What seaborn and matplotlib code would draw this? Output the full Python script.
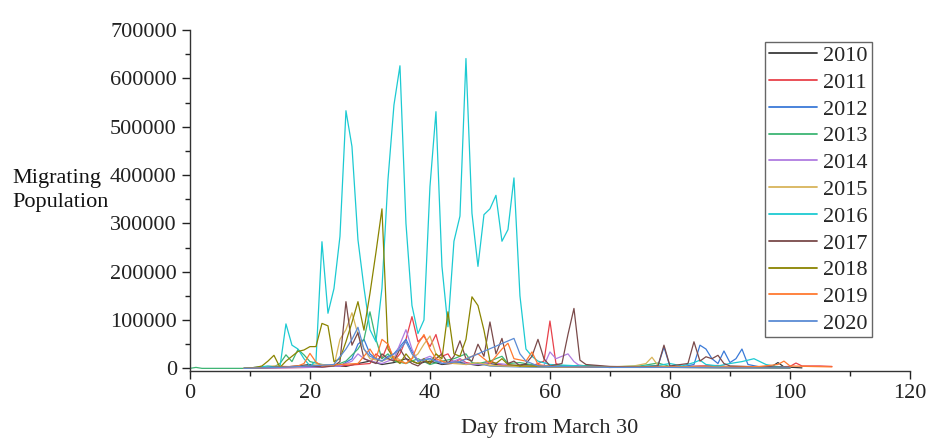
import pandas as pd
import matplotlib
matplotlib.use('Agg')
import matplotlib.pyplot as plt
from matplotlib.ticker import MultipleLocator
import seaborn as sns

# 各年份迁徙数量（单位：千），按天读取自原图
years = ['2010', '2011', '2012', '2013', '2014', '2015', '2016', '2017', '2018', '2019', '2020']

days_2010 = [9, 12, 15, 18, 20, 22, 24, 26, 28, 30, 32, 34, 36, 38, 40, 42, 45, 48, 50, 53, 56, 60, 65, 70, 75, 80, 85, 90, 95, 97, 98, 99, 102]
vals_2010 = [0, 3, 2, 5, 8, 3, 6, 4, 10, 15, 8, 12, 20, 10, 15, 8, 12, 6, 10, 5, 8, 4, 6, 3, 2, 3, 4, 3, 2, 4, 12, 3, 1]

days_2011 = [9, 20, 25, 28, 30, 31, 32, 33, 34, 35, 36, 37, 38, 39, 40, 41, 42, 43, 44, 45, 46, 48, 50, 52, 55,
             57, 58, 59, 60, 61, 62, 65, 70, 80, 88, 90, 95, 100, 101, 102, 105, 107]
vals_2011 = [0, 2, 5, 8, 10, 30, 20, 50, 15, 30, 60, 107, 55, 67, 45, 70, 25, 30, 10, 20, 12, 8, 15, 6, 4,
             5, 10, 15, 98, 10, 4, 3, 2, 3, 6, 3, 2, 4, 11, 5, 5, 4]

days_2012 = [9, 15, 20, 25, 27, 28, 29, 30, 31, 32, 33, 34, 35, 36, 37, 38, 40, 42, 44, 46, 48, 50, 52, 55, 60, 65,
             70, 75, 78, 79, 80, 82, 84, 85, 86, 87, 88, 89, 90, 91, 92, 93, 95, 100]
vals_2012 = [0, 2, 3, 5, 20, 50, 60, 30, 20, 15, 25, 30, 45, 60, 35, 15, 20, 10, 15, 8, 10, 5, 4, 3, 2, 3,
             2, 3, 5, 44, 4, 3, 8, 48, 40, 20, 10, 36, 12, 20, 40, 8, 3, 1]

days_2013 = [0, 1, 2, 5, 10, 14, 15, 16, 17, 18, 19, 20, 22, 24, 26, 28, 29, 30, 31, 32, 33, 34, 36, 38, 40, 42,
             44, 46, 47, 48, 50, 52, 53, 55, 58, 60, 65, 70, 75, 78, 80, 85, 90, 95, 100]
vals_2013 = [0, 2, 0, 0, 0, 3, 10, 28, 14, 39, 28, 14, 8, 5, 15, 40, 60, 117, 60, 20, 30, 15, 10, 20, 8, 15,
             20, 30, 12, 10, 15, 25, 10, 12, 5, 4, 6, 3, 5, 11, 4, 3, 2, 2, 1]

days_2014 = [9, 20, 25, 27, 28, 29, 30, 32, 34, 35, 36, 37, 38, 40, 42, 44, 45, 46, 48, 50, 55,
             58, 59, 60, 61, 62, 63, 64, 65, 66, 70, 80, 90, 100]
vals_2014 = [0, 2, 5, 15, 30, 20, 15, 10, 20, 50, 80, 40, 15, 25, 10, 15, 20, 10, 8, 12, 5,
             4, 6, 34, 20, 25, 30, 14, 5, 3, 2, 3, 2, 1]

days_2015 = [9, 14, 18, 20, 22, 24, 25, 26, 27, 28, 29, 30, 32, 34, 36, 38, 39, 40, 41, 42,
             44, 46, 48, 50, 52, 55, 60, 65, 70, 74, 76, 77, 78, 80, 85, 90, 95, 100]
vals_2015 = [0, 5, 3, 6, 8, 5, 60, 80, 115, 70, 40, 20, 15, 25, 10, 30, 50, 67, 30, 15,
             10, 8, 12, 6, 5, 4, 3, 2, 3, 5, 10, 23, 6, 3, 2, 3, 2, 1]

days_2016 = [9, 11, 13, 14, 15, 16, 17, 18, 19, 20, 21, 22, 23, 24, 25, 26, 27, 28, 29, 30, 31, 32, 33, 34, 35,
             36, 37, 38, 39, 40, 41, 42, 43, 44, 45, 46, 47, 48, 49, 50, 51, 52, 53, 54, 55, 56, 57, 58,
             60, 65, 70, 75, 78, 80, 82, 84, 85, 86, 88, 90, 92, 94, 96, 98, 100]
vals_2016 = [0, 2, 5, 3, 3, 92, 48, 40, 20, 5, 15, 262, 114, 165, 273, 533, 459, 266, 167, 80, 55, 166, 390, 545, 626,
             300, 130, 72, 100, 376, 531, 211, 86, 263, 315, 641, 321, 211, 318, 330, 358, 263, 287, 394, 150, 40, 25, 15,
             8, 5, 3, 4, 6, 10, 5, 12, 17, 8, 5, 10, 14, 20, 8, 3, 2]

days_2017 = [10, 15, 20, 22, 24, 25, 26, 27, 28, 29, 30, 31, 32, 33, 34, 35, 36, 37, 38, 39, 40, 41, 42, 43, 44,
             45, 46, 47, 48, 49, 50, 51, 52, 53, 54, 55, 56, 57, 58, 59, 60, 62, 63, 64, 65, 66,
             70, 75, 78, 79, 80, 83, 84, 85, 86, 87, 88, 89, 90, 95, 100]
vals_2017 = [0, 3, 5, 3, 5, 14, 138, 48, 74, 20, 15, 10, 30, 20, 15, 40, 20, 10, 5, 15, 10, 20, 30, 10, 25,
             57, 20, 15, 50, 25, 96, 30, 62, 10, 15, 5, 10, 25, 60, 20, 5, 10, 70, 124, 17, 8,
             4, 3, 5, 48, 5, 10, 55, 15, 24, 20, 27, 10, 5, 3, 2]

days_2018 = [9, 11, 12, 13, 14, 15, 16, 17, 18, 19, 20, 21, 22, 23, 24, 25, 26, 27, 28, 29, 30, 31, 32, 33, 34,
             35, 36, 37, 38, 39, 40, 41, 42, 43, 44, 45, 46, 47, 48, 49, 50, 51, 52, 53, 55, 60, 65, 70, 80, 90, 100]
vals_2018 = [0, 2, 5, 15, 27, 2, 15, 25, 35, 38, 45, 45, 93, 88, 14, 20, 55, 95, 138, 79, 155, 240, 330, 40, 20,
             10, 30, 15, 10, 20, 10, 30, 20, 117, 30, 25, 60, 148, 130, 79, 15, 10, 20, 8, 5, 4, 3, 2, 2, 1, 1]

days_2019 = [9, 15, 18, 19, 20, 21, 22, 25, 28, 30, 31, 32, 33, 34, 36, 37, 38, 39, 40, 41,
             43, 45, 48, 50, 52, 53, 54, 56, 57, 58, 60, 65, 70, 80, 90, 95, 98, 99, 100, 103, 107]
vals_2019 = [0, 2, 5, 10, 31, 13, 5, 8, 10, 40, 20, 60, 50, 20, 10, 20, 50, 70, 40, 20,
             10, 15, 30, 10, 40, 52, 20, 15, 34, 8, 4, 3, 2, 3, 2, 4, 8, 15, 5, 4, 3]

days_2020 = [9, 15, 20, 24, 26, 27, 28, 29, 30, 32, 34, 35, 36, 37, 38, 40, 42, 45, 54, 55, 56, 57, 58,
             60, 65, 70, 80, 90, 100]
vals_2020 = [0, 2, 5, 8, 40, 60, 85, 40, 25, 15, 30, 40, 55, 30, 15, 20, 10, 14, 62, 30, 15, 10, 5,
             4, 3, 2, 2, 1, 1]

all_days = [days_2010, days_2011, days_2012, days_2013, days_2014, days_2015,
            days_2016, days_2017, days_2018, days_2019, days_2020]
all_vals = [vals_2010, vals_2011, vals_2012, vals_2013, vals_2014, vals_2015,
            vals_2016, vals_2017, vals_2018, vals_2019, vals_2020]

colors = ['#3a3a3a', '#e8414a', '#3a7ad8', '#3db574', '#b07ce0', '#d8b45a',
          '#1ccad2', '#7a4a4a', '#8a8400', '#ff7a30', '#5b8bd4']

# 组装长表
frames = []
for y, d, v in zip(years, all_days, all_vals):
    frames.append(pd.DataFrame({'day': d, 'pop': [x * 1000 for x in v], 'year': y}))
df = pd.concat(frames, ignore_index=True)

sns.set_style('ticks')
plt.rcParams['font.family'] = ['Liberation Serif', 'DejaVu Serif']

fig = plt.figure(figsize=(9.33, 4.46), dpi=100)
ax = fig.add_axes([0.2036, 0.168, 0.7717, 0.7647])

sns.lineplot(data=df, x='day', y='pop', hue='year', palette=dict(zip(years, colors)),
             estimator=None, sort=False, linewidth=0.9, ax=ax)

ax.set_xlim(0, 120)
ax.set_ylim(-5600, 700000)
ax.xaxis.set_major_locator(MultipleLocator(20))
ax.xaxis.set_minor_locator(MultipleLocator(10))
ax.yaxis.set_major_locator(MultipleLocator(100000))
ax.yaxis.set_minor_locator(MultipleLocator(50000))
ax.tick_params(which='major', direction='out', length=6, width=1, labelsize=16, colors='#222222')
ax.tick_params(which='minor', direction='out', length=3.5, width=1, colors='#222222')
sns.despine(ax=ax)
for s in ['left', 'bottom']:
    ax.spines[s].set_color('#333333')
    ax.spines[s].set_linewidth(1)

ax.set_xlabel('Day from March 30', fontsize=16, labelpad=11)
ax.set_ylabel('')
fig.text(0.013, 0.572, 'Migrating\nPopulation', ha='left', va='center', fontsize=16,
         linespacing=1.35, color='#111111')

handles, labels = ax.get_legend_handles_labels()
leg = ax.legend(handles, labels, loc='upper left', bbox_to_anchor=(765 / 933, 1 - 42 / 446),
                bbox_transform=fig.transFigure, borderaxespad=0, fontsize=16, frameon=True,
                fancybox=False, framealpha=1, edgecolor='#666666', handlelength=2.2,
                handletextpad=0.27, labelspacing=0.28, borderpad=0.16)
leg.get_frame().set_linewidth(1)
for line in leg.get_lines():
    line.set_linewidth(1.3)

fig.savefig('out.png', dpi=100)
